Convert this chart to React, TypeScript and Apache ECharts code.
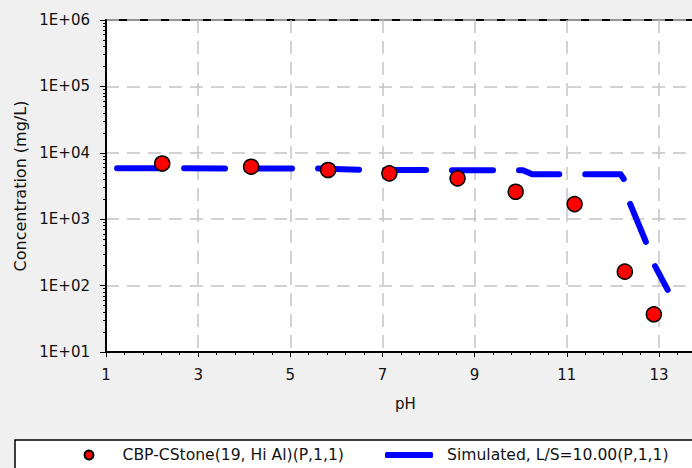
import React, { useEffect, useRef } from "react";
import * as echarts from "echarts";

const obsName = "CBP-CStone(19, Hi Al)(P,1,1)";
const simName = "Simulated, L/S=10.00(P,1,1)";

const phObs = [2.22, 4.15, 5.82, 7.15, 8.63, 9.89, 11.17, 12.26, 12.89];
const concObs = [6900, 6170, 5510, 4910, 4130, 2590, 1690, 162, 37];

const phSim = [1.24, 5.6, 6.6, 10.05, 10.25, 12.17, 12.26, 12.36, 12.71, 12.87, 13.19];
const concSim = [5850, 5800, 5520, 5450, 4750, 4750, 3800, 1800, 470, 226, 86];

const xTicksMin = 1;
const xTicksMax = 14;
const xInterval = 2;
const yMin = 10;
const yMax = 1e6;

// log-minor tick positions (2..9 in each decade), in decade units
const decades = [1, 2, 3, 4, 5];
const minorMult = [2, 3, 4, 5, 6, 7, 8, 9];

export default function App() {
  const ref = useRef<HTMLDivElement>(null);
  useEffect(() => {
    if (!ref.current) return;
    const chart = echarts.init(ref.current, null, { renderer: "svg" });
    const minorVals: number[] = [];
    decades.forEach((d) => minorMult.forEach((k) => minorVals.push(d + Math.log10(k))));
    const font = "DejaVu Sans";
    chart.setOption({
      animation: false,
      backgroundColor: "#f0f0f0",
      textStyle: { fontFamily: font },
      grid: {
        left: 106,
        top: 20,
        width: 599,
        height: 332,
        containLabel: false,
        outerBoundsMode: "none",
        show: true,
        backgroundColor: "#ffffff",
        borderColor: "#000000",
        borderWidth: 2,
      },
      graphic: [
        {
          type: "rect",
          shape: { x: 15, y: 440, width: 700, height: 40 },
          style: { fill: "#ffffff", stroke: "#000000", lineWidth: 1.5 },
          z: 0,
        },
      ],
      legend: [
        {
          data: [{ name: obsName, icon: "circle" }],
          left: 83.5,
          top: 446,
          padding: 0,
          itemWidth: 9,
          itemHeight: 9,
          textStyle: {
            fontFamily: font,
            fontSize: 15.6,
            color: "#111",
            lineHeight: 18,
            padding: [0, 0, 0, 24],
          },
          z: 5,
        },
        {
          data: [
            {
              name: simName,
              icon: "roundRect",
              itemStyle: { color: "#0000ff", borderWidth: 0 },
            },
          ],
          left: 385,
          top: 446,
          padding: 0,
          itemWidth: 48,
          itemHeight: 6,
          textStyle: {
            fontFamily: font,
            fontSize: 15.6,
            color: "#111",
            lineHeight: 18,
            padding: [0, 0, 0, 9],
          },
          z: 5,
        },
      ],
      xAxis: {
        type: "value",
        min: xTicksMin,
        max: xTicksMax,
        interval: xInterval,
        name: "pH",
        nameLocation: "middle",
        nameGap: 44,
        nameTextStyle: { fontFamily: font, fontSize: 15, color: "#111" },
        axisLine: { show: true, lineStyle: { color: "#000", width: 2 } },
        axisTick: { show: true, length: 5, lineStyle: { color: "#000", width: 1 } },
        minorTick: { show: true, splitNumber: 5, length: 3, lineStyle: { color: "#000", width: 1 } },
        axisLabel: { fontFamily: font, fontSize: 15, color: "#111", margin: 15, showMaxLabel: false },
        splitLine: {
          show: true,
          lineStyle: { color: "#c4c4c4", width: 1.5, type: [13, 8] },
        },
      },
      yAxis: [
        {
          type: "log",
          logBase: 10,
          min: yMin,
          max: yMax,
          name: "Concentration (mg/L)",
          nameLocation: "middle",
          nameGap: 76,
          nameTextStyle: { fontFamily: font, fontSize: 16, color: "#111" },
          axisLine: { show: true, lineStyle: { color: "#000", width: 2 } },
          axisTick: { show: true, length: 6, lineStyle: { color: "#000", width: 1 } },
          axisLabel: {
            fontFamily: font,
            fontSize: 15,
            color: "#111",
            margin: 16,
            formatter: (v: number) => {
              const e = Math.round(Math.log10(v));
              return "1E+" + (e < 10 ? "0" + e : "" + e);
            },
          },
          splitLine: {
            show: true,
            lineStyle: { color: "#c4c4c4", width: 1.5, type: [13, 8] },
          },
        },
        {
          type: "value",
          min: 1,
          max: 6,
          position: "left",
          offset: 0,
          axisLine: { show: false },
          axisLabel: { show: false },
          splitLine: { show: false },
          axisTick: {
            show: true,
            length: 3,
            customValues: minorVals,
            lineStyle: { color: "#000", width: 1 },
          },
        },
      ],
      series: [
        {
          name: simName,
          type: "line",
          yAxisIndex: 0,
          data: phSim.map((p, i) => [p, concSim[i]]),
          showSymbol: false,
          symbol: "none",
          itemStyle: { color: "#0000ff" },
          lineStyle: { color: "#0000ff", width: 6, type: [41, 26], cap: "round", join: "round" },
          z: 2,
        },
        {
          name: obsName,
          type: "scatter",
          yAxisIndex: 0,
          data: phObs.map((p, i) => [p, concObs[i]]),
          symbol: "circle",
          symbolSize: 15,
          itemStyle: { color: "#ff0000", borderColor: "#000000", borderWidth: 1.5, opacity: 1 },
          z: 3,
        },
      ],
    });
    return () => chart.dispose();
  }, []);
  return (
    <div
      ref={ref}
      style={{ position: "absolute", left: 0, top: 0, width: 692, height: 468 }}
    />
  );
}
